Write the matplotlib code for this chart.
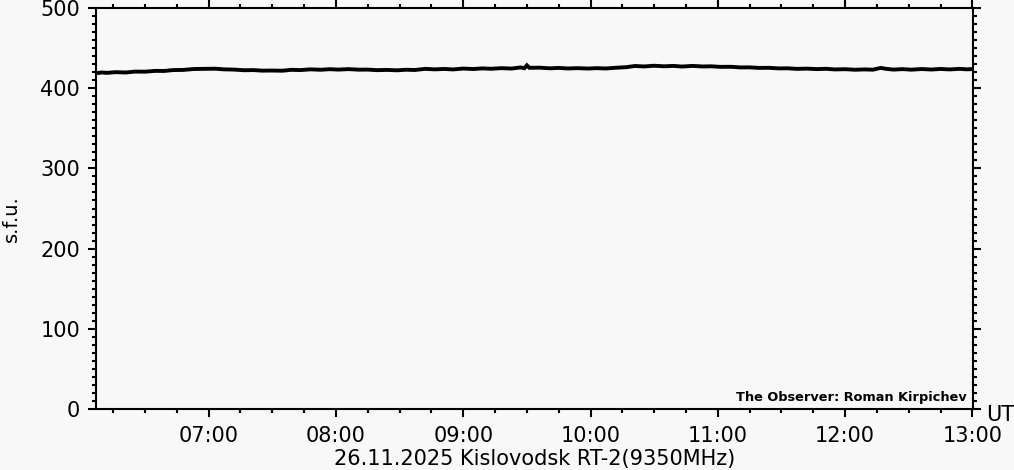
import matplotlib

matplotlib.use("Agg")
import matplotlib.pyplot as plt
from matplotlib.ticker import MultipleLocator, FuncFormatter

BG = "#f8f8f8"
INK = "#000000"

# time in decimal hours (UT), flux in s.f.u.
HOURS = [6.12, 6.16, 6.20, 6.27, 6.35, 6.42, 6.50, 6.58, 6.65, 6.72,
         6.80, 6.88, 6.95, 7.05, 7.12, 7.20, 7.28, 7.35, 7.42, 7.50,
         7.58, 7.65, 7.72, 7.80, 7.88, 7.95, 8.02, 8.10, 8.18, 8.25,
         8.32, 8.40, 8.48, 8.55, 8.62, 8.70, 8.78, 8.85, 8.92, 9.00,
         9.08, 9.15, 9.22, 9.30, 9.38, 9.45, 9.48, 9.50, 9.52, 9.60,
         9.68, 9.75, 9.82, 9.90, 9.98, 10.05, 10.12, 10.20, 10.28, 10.35,
         10.42, 10.50, 10.58, 10.65, 10.72, 10.80, 10.88, 10.95, 11.02, 11.10,
         11.18, 11.25, 11.32, 11.40, 11.48, 11.55, 11.62, 11.70, 11.78, 11.85,
         11.92, 12.00, 12.08, 12.15, 12.22, 12.28, 12.32, 12.38, 12.45, 12.52,
         12.60, 12.68, 12.75, 12.82, 12.90, 12.96, 13.00]
FLUX = [418.8, 419.6, 419.1, 420.0, 419.6, 420.7, 420.6, 421.6, 421.5, 422.6,
        422.8, 423.9, 424.1, 424.3, 423.5, 423.2, 422.4, 422.6, 421.9, 422.0,
        421.8, 422.9, 422.6, 423.5, 423.0, 423.7, 423.2, 423.8, 423.1, 423.2,
        422.5, 422.8, 422.3, 423.0, 422.7, 424.1, 423.5, 424.0, 423.4, 424.5,
        423.9, 424.7, 424.2, 425.0, 424.5, 425.9, 424.9, 428.5, 425.4, 425.6,
        424.8, 425.3, 424.6, 425.0, 424.5, 425.0, 424.6, 425.5, 426.2, 427.7,
        427.1, 428.0, 427.3, 427.8, 427.0, 427.8, 427.1, 427.3, 426.6, 426.7,
        425.9, 426.0, 425.3, 425.4, 424.7, 424.8, 424.1, 424.4, 423.8, 424.2,
        423.4, 423.7, 423.0, 423.4, 423.1, 425.3, 424.2, 423.2, 423.8, 423.1,
        423.9, 423.3, 424.0, 423.4, 424.1, 423.5, 423.9]

X_RANGE = (6.115, 13.005)
Y_RANGE = (0, 500)
TITLE = "26.11.2025 Kislovodsk RT-2(9350MHz)"
OBSERVER = "The Observer: Roman Kirpichev"


def hhmm(v, pos):
    t = int(round(v * 60))
    return f"{t // 60:02d}:{t % 60:02d}"


def main():
    fig = plt.figure(figsize=(10.14, 4.70), dpi=100, facecolor=BG)
    ax = fig.add_axes((96 / 1014, 1 - 409 / 470, 877 / 1014, 401 / 470))
    ax.set_facecolor(BG)

    ax.plot(HOURS, FLUX, color=INK, linewidth=2.8, solid_joinstyle="miter")

    ax.set_xlim(*X_RANGE)
    ax.set_ylim(*Y_RANGE)

    ax.xaxis.set_major_locator(MultipleLocator(1.0))
    ax.xaxis.set_minor_locator(MultipleLocator(0.25))
    ax.xaxis.set_major_formatter(FuncFormatter(hhmm))
    ax.yaxis.set_major_locator(MultipleLocator(100))
    ax.yaxis.set_minor_locator(MultipleLocator(10))

    for s in ax.spines.values():
        s.set_linewidth(1.5)
        s.set_color(INK)

    ax.tick_params(which="both", direction="out", top=True, right=True,
                   color=INK, width=1.5)
    ax.tick_params(which="major", length=5.5, labelsize=15, pad=6)
    ax.tick_params(which="minor", length=3)
    ax.tick_params(axis="x", which="major", pad=7)

    ax.set_ylabel("s.f.u.", fontsize=14)
    ax.yaxis.set_label_coords((21 - 96) / 877, (409 - 219) / 401)
    ax.set_xlabel(TITLE, fontsize=15, labelpad=2)

    ax.text(0.993, 0.012, OBSERVER, transform=ax.transAxes,
            ha="right", va="bottom", fontsize=9.3, weight="bold", color=INK)
    fig.text(986 / 1014, 1 - 415 / 470, "UT", ha="left", va="center",
             fontsize=15, color=INK)

    fig.savefig("out.png", dpi=100, facecolor=BG)
    plt.close(fig)


if __name__ == "__main__":
    main()
